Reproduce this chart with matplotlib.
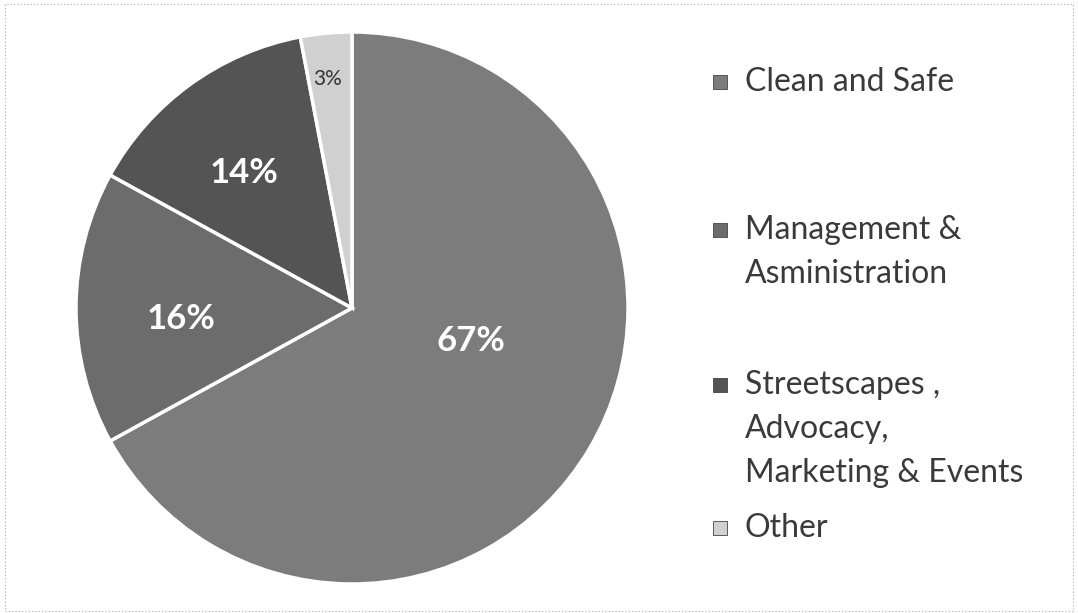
import matplotlib
matplotlib.use('Agg')
import matplotlib.pyplot as plt
from matplotlib.patches import Rectangle

categories = ['Clean and Safe', 'Management &\nAsministration',
              'Streetscapes ,\nAdvocacy,\nMarketing & Events', 'Other']
shares = [67, 16, 14, 3]
pct_labels = ['67%', '16%', '14%', '3%']
colors = ['#7c7c7c', '#6c6c6c', '#545454', '#d0d0d0']
label_colors = ['white', 'white', 'white', '#333333']
label_pos = [(0.43, -0.12), (-0.62, -0.04), (-0.39, 0.49), (-0.09, 0.83)]

W, H = 1078, 613
fig = plt.figure(figsize=(W / 100, H / 100), dpi=100)
fig.patch.set_facecolor('white')

# pie: centre (352, 308) px, radius 276 px
cx, cy, r = 352, 308, 276
ax = fig.add_axes([(cx - r) / W, (H - cy - r) / H, 2 * r / W, 2 * r / H])
ax.pie(shares, colors=colors, startangle=90, counterclock=False,
       wedgeprops=dict(edgecolor='white', linewidth=2.5))
ax.set_xlim(-1, 1)
ax.set_ylim(-1, 1)
ax.set_aspect('equal')
ax.axis('off')

for txt, (x, y), c, v in zip(pct_labels, label_pos, label_colors, shares):
    big = v > 5
    ax.text(x, y, txt, ha='center', va='center', color=c, family='Lato',
            fontsize=25 if big else 15, fontweight='bold' if big else 'normal')

# legend drawn by hand, one block per category
legend_top = [82, 230, 385, 528]
line_step = 44
for name, col, ty in zip(categories, colors, legend_top):
    fig.patches.append(Rectangle((713 / W, (H - ty - 7) / H), 14 / W, 14 / H,
                                 transform=fig.transFigure, facecolor=col,
                                 edgecolor='#444444', linewidth=0.6))
    for i, line in enumerate(name.split('\n')):
        fig.text(745 / W, (H - ty - i * line_step) / H, line, ha='left',
                 va='center', family='Lato', fontsize=23, color='#3a3a3a')

# thin frame round the chart area
fig.patches.append(Rectangle((5 / W, 2 / H), 1068 / W, 607 / H,
                             transform=fig.transFigure, fill=False,
                             edgecolor='#aaaaaa', linewidth=0.8,
                             linestyle=(0, (1, 2))))

fig.savefig('out.png', dpi=100)
